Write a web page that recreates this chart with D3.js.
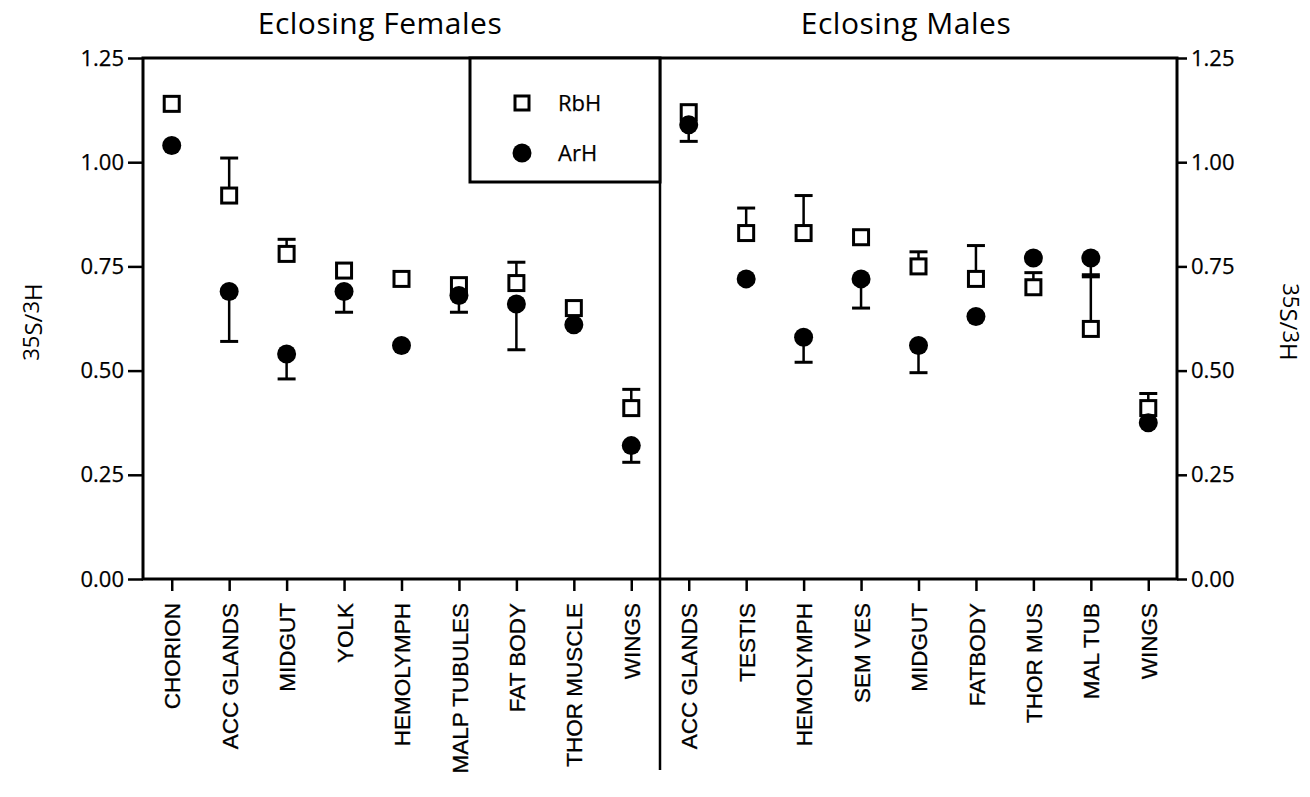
<!DOCTYPE html>
<html>
<head>
<meta charset="utf-8">
<script src="https://cdn.jsdelivr.net/npm/d3@7"></script>
<style>
  body { margin: 0; background: #fff; }
  svg { display: block; }
  .cat text { font-family: "Liberation Sans", Arial, sans-serif; font-size: 22.5px; fill: #000; stroke: #000; stroke-width: 0.3px; }
  .num text { font-family: "Open Sans", sans-serif; font-size: 22px; fill: #000; stroke: #000; stroke-width: 0.25px; }
</style>
</head>
<body>
<svg id="chart"></svg>
<script>
// values
const femaleTissues = ["CHORION", "ACC GLANDS", "MIDGUT", "YOLK", "HEMOLYMPH", "MALP TUBULES", "FAT BODY", "THOR MUSCLE", "WINGS"];
const femaleRbH = [1.14, 0.92, 0.78, 0.74, 0.72, 0.705, 0.71, 0.65, 0.41];
const femaleRbHErr = [0, 0.09, 0.035, 0, 0, 0, 0.05, 0, 0.045];
const femaleArH = [1.04, 0.69, 0.54, 0.69, 0.56, 0.68, 0.66, 0.61, 0.32];
const femaleArHErr = [0, 0.12, 0.06, 0.05, 0, 0.04, 0.11, 0, 0.04];

const maleTissues = ["ACC GLANDS", "TESTIS", "HEMOLYMPH", "SEM VES", "MIDGUT", "FATBODY", "THOR MUS", "MAL TUB", "WINGS"];
const maleRbH = [1.12, 0.83, 0.83, 0.82, 0.75, 0.72, 0.70, 0.60, 0.41];
const maleRbHErr = [0, 0.06, 0.09, 0, 0.035, 0.08, 0.035, 0.125, 0.035];
const maleArH = [1.09, 0.72, 0.58, 0.72, 0.56, 0.63, 0.77, 0.77, 0.375];
const maleArHErr = [0.04, 0, 0.06, 0.07, 0.065, 0, 0, 0.04, 0];

const yTicks = [0, 0.25, 0.5, 0.75, 1.0, 1.25];
const panelTitles = ["Eclosing Females", "Eclosing Males"];

const W = 1310, H = 797;
const mLeft = 143, mTop = 58, panelW = 517, plotH = 521;
const mRight = mLeft + 2 * panelW;

let svg = d3.select("#chart").attr("width", W).attr("height", H);

let y = d3.scaleLinear().domain([0, 1.25]).range([mTop + plotH, mTop]);

function drawPanel(x0, tissues, rbh, rbhErr, arh, arhErr, title, titleX) {
    let x = d3.scalePoint().domain(tissues).range([x0, x0 + panelW]).padding(0.5);
    let rows = tissues.map((t, i) => ({ t, rbh: rbh[i], rbhErr: rbhErr[i], arh: arh[i], arhErr: arhErr[i] }));

    let xAxis = d3.axisBottom(x).tickSize(12).tickSizeOuter(0);
    let g = svg.append("g").attr("class", "cat").attr("transform", `translate(0,${mTop + plotH})`).call(xAxis);
    g.select(".domain").remove();
    g.selectAll("line").attr("stroke-width", 2.5);
    g.selectAll("text")
        .attr("transform", "rotate(-90)")
        .attr("x", -24)
        .attr("y", 0)
        .attr("dy", "0.36em")
        .style("text-anchor", "end");

    svg.append("text")
        .attr("x", titleX)
        .attr("y", 34)
        .attr("text-anchor", "middle")
        .attr("font-family", "Open Sans, sans-serif")
        .attr("font-size", 30)
        .attr("letter-spacing", 0.5)
        .text(title);

    let cap = 9;
    let bars = svg.append("g").attr("stroke", "#000").attr("stroke-width", 2.5);
    // RbH error bars (upward)
    rows.filter(d => d.rbhErr > 0).forEach(d => {
        let cx = x(d.t);
        bars.append("line").attr("x1", cx).attr("x2", cx).attr("y1", y(d.rbh)).attr("y2", y(d.rbh + d.rbhErr));
        bars.append("line").attr("x1", cx - cap).attr("x2", cx + cap).attr("y1", y(d.rbh + d.rbhErr)).attr("y2", y(d.rbh + d.rbhErr)).attr("stroke-width", 3);
    });
    // ArH error bars (downward)
    rows.filter(d => d.arhErr > 0).forEach(d => {
        let cx = x(d.t);
        bars.append("line").attr("x1", cx).attr("x2", cx).attr("y1", y(d.arh)).attr("y2", y(d.arh - d.arhErr));
        bars.append("line").attr("x1", cx - cap).attr("x2", cx + cap).attr("y1", y(d.arh - d.arhErr)).attr("y2", y(d.arh - d.arhErr)).attr("stroke-width", 3);
    });

    svg.append("g").selectAll("rect")
        .data(rows)
        .enter()
        .append("rect")
        .attr("x", d => x(d.t) - 7.5)
        .attr("y", d => y(d.rbh) - 7.5)
        .attr("width", 15)
        .attr("height", 15)
        .attr("fill", "#fff")
        .attr("stroke", "#000")
        .attr("stroke-width", 3);

    svg.append("g").selectAll("circle")
        .data(rows)
        .enter()
        .append("circle")
        .attr("cx", d => x(d.t))
        .attr("cy", d => y(d.arh))
        .attr("r", 9.5)
        .attr("fill", "#000");
}

drawPanel(mLeft, femaleTissues, femaleRbH, femaleRbHErr, femaleArH, femaleArHErr, panelTitles[0], 380);
drawPanel(mLeft + panelW, maleTissues, maleRbH, maleRbHErr, maleArH, maleArHErr, panelTitles[1], 906);

// y axes
let fmt = d3.format(".2f");
let yl = svg.append("g").attr("class", "num").attr("transform", `translate(${mLeft},0)`)
    .call(d3.axisLeft(y).tickValues(yTicks).tickFormat(fmt).tickSize(15).tickSizeOuter(0).tickPadding(4));
yl.select(".domain").remove();
yl.selectAll("line").attr("stroke-width", 2.5);

let yr = svg.append("g").attr("class", "num").attr("transform", `translate(${mRight},0)`)
    .call(d3.axisRight(y).tickValues(yTicks).tickFormat(fmt).tickSize(10).tickSizeOuter(0).tickPadding(4));
yr.select(".domain").remove();
yr.selectAll("line").attr("stroke-width", 2.5);

// frame
let frame = svg.append("g").attr("stroke", "#000").attr("stroke-width", 3).attr("fill", "none");
frame.append("rect").attr("x", mLeft).attr("y", mTop).attr("width", mRight - mLeft).attr("height", plotH);
frame.append("line").attr("x1", mLeft + panelW).attr("x2", mLeft + panelW).attr("y1", mTop).attr("y2", 770).attr("stroke-width", 2.5);

// legend
let lgX = 470, lgW = mLeft + panelW - 470, lgH = 124;
frame.append("rect").attr("x", lgX).attr("y", mTop).attr("width", lgW).attr("height", lgH).attr("fill", "#fff");
let legend = svg.append("g");
legend.append("rect").attr("x", 515).attr("y", 96).attr("width", 14).attr("height", 14)
    .attr("fill", "#fff").attr("stroke", "#000").attr("stroke-width", 3);
legend.append("circle").attr("cx", 522).attr("cy", 153).attr("r", 9.5).attr("fill", "#000");
legend.selectAll("text.lg")
    .data(["RbH", "ArH"])
    .enter()
    .append("text")
    .attr("x", 558)
    .attr("y", (d, i) => 111 + i * 50)
    .attr("font-family", "Open Sans, sans-serif")
    .attr("font-size", 22)
    .attr("stroke", "#000")
    .attr("stroke-width", 0.25)
    .text(d => d);

// axis titles
function axisTitle(xp, rot) {
    let t = svg.append("text")
        .attr("transform", `translate(${xp},322) rotate(${rot})`)
        .attr("text-anchor", "middle")
        .attr("font-family", "Open Sans, sans-serif")
        .attr("font-size", 24);
    t.append("tspan").attr("font-size", 22).attr("dy", -3).text("35");
    t.append("tspan").attr("dy", 3).text("S/");
    t.append("tspan").attr("font-size", 22).attr("dy", -3).text("3");
    t.append("tspan").attr("dy", 3).text("H");
}
axisTitle(42, -90);
axisTitle(1280, 90);
</script>
</body>
</html>
